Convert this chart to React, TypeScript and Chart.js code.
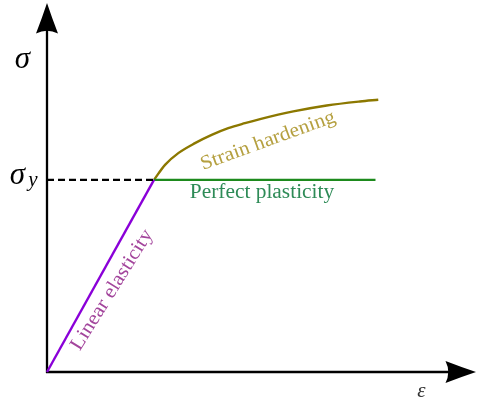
import { useEffect, useRef } from "react";
import { Chart, registerables } from "chart.js";
Chart.register(...registerables);

// Stress-strain data (arbitrary units; yield point at (1, 1))
const elasticStrain = [0, 1];
const elasticStress = [0, 1];
const yieldLineStrain = [0, 1];
const yieldLineStress = [1, 1];
const plasticStrain = [1, 3.07];
const plasticStress = [1, 1];
const hardeningStrain = [1, 1.103, 1.227, 1.383, 1.539, 1.694, 1.85, 1.991, 2.302, 2.614, 2.925, 3.096];
const hardeningStress = [1, 1.078, 1.139, 1.191, 1.234, 1.269, 1.295, 1.316, 1.356, 1.387, 1.408, 1.417];

const regionLabels = ["Linear elasticity", "Perfect plasticity", "Strain hardening"];
const stressSymbol = "σ";
const yieldSub = "y";
const strainSymbol = "ε";

const pts = (xs: number[], ys: number[]) => xs.map((x, i) => ({ x, y: ys[i] }));

const SERIF = "'Liberation Serif', 'DejaVu Serif', serif";

const decor = {
  id: "decor",
  beforeDatasetsDraw(chart: any) {
    const { ctx, scales } = chart;
    const x0 = scales.x.getPixelForValue(0);
    const y0 = scales.y.getPixelForValue(0);
    const xTip = scales.x.getPixelForValue(scales.x.max) + 1;
    const yTip = scales.y.getPixelForValue(scales.y.max) - 2;
    ctx.save();
    ctx.strokeStyle = "#000";
    ctx.fillStyle = "#000";
    ctx.lineWidth = 2.3;
    ctx.beginPath();
    ctx.moveTo(x0, y0 + 1);
    ctx.lineTo(x0, yTip + 20);
    ctx.moveTo(x0 - 1, y0);
    ctx.lineTo(xTip - 20, y0);
    ctx.stroke();
    // y arrow head
    ctx.beginPath();
    ctx.moveTo(x0, yTip);
    ctx.quadraticCurveTo(x0 + 5, yTip + 15, x0 + 11, yTip + 30.5);
    ctx.quadraticCurveTo(x0, yTip + 25, x0 - 11, yTip + 30.5);
    ctx.quadraticCurveTo(x0 - 5, yTip + 15, x0, yTip);
    ctx.fill();
    // x arrow head
    ctx.beginPath();
    ctx.moveTo(xTip, y0);
    ctx.quadraticCurveTo(xTip - 15, y0 - 5, xTip - 30.5, y0 - 11);
    ctx.quadraticCurveTo(xTip - 25, y0, xTip - 30.5, y0 + 11);
    ctx.quadraticCurveTo(xTip - 15, y0 + 5, xTip, y0);
    ctx.fill();
    ctx.restore();
  },
  afterDatasetsDraw(chart: any) {
    const { ctx, scales } = chart;
    const px = (v: number) => scales.x.getPixelForValue(v);
    const py = (v: number) => scales.y.getPixelForValue(v);
    ctx.save();
    ctx.textAlign = "center";
    ctx.textBaseline = "middle";

    // axis symbols
    ctx.fillStyle = "#000";
    ctx.font = `italic 31px ${SERIF}`;
    ctx.fillText(stressSymbol, px(-0.229), py(1.625));
    ctx.fillText(stressSymbol, px(-0.276), py(1.021));
    ctx.font = `italic 21px ${SERIF}`;
    ctx.fillText(yieldSub, px(-0.131), py(0.997));
    ctx.fillStyle = "#333";
    ctx.font = `italic 21px ${SERIF}`;
    ctx.fillText(strainSymbol, px(3.5), py(-0.1));

    const rot = (text: string, x: number, y: number, ang: number, color: string) => {
      ctx.save();
      ctx.translate(x, y);
      ctx.rotate((ang * Math.PI) / 180);
      ctx.scale(1.07, 1);
      ctx.fillStyle = color;
      ctx.font = `20px ${SERIF}`;
      ctx.fillText(text, 0, 0);
      ctx.restore();
    };
    rot(regionLabels[0], px(0.607), py(0.427), -58, "#a3459c");
    rot(regionLabels[1], px(2.009), py(0.932), 0, "#2e8b57");
    rot(regionLabels[2], px(2.065), py(1.203), -20, "#b5a040");
    ctx.restore();
  },
};

export default function App() {
  const ref = useRef<HTMLCanvasElement>(null);
  useEffect(() => {
    const chart = new Chart(ref.current!, {
      type: "scatter",
      data: {
        datasets: [
          {
            data: pts(yieldLineStrain, yieldLineStress),
            showLine: true,
            borderColor: "#000",
            borderWidth: 2.2,
            borderDash: [7, 4],
            pointRadius: 0,
          },
          {
            data: pts(elasticStrain, elasticStress),
            showLine: true,
            borderColor: "#8a00d8",
            borderWidth: 2.4,
            pointRadius: 0,
          },
          {
            data: pts(plasticStrain, plasticStress),
            showLine: true,
            borderColor: "#1d8a1d",
            borderWidth: 2.4,
            pointRadius: 0,
          },
          {
            data: pts(hardeningStrain, hardeningStress),
            showLine: true,
            borderColor: "#8c7800",
            borderWidth: 2.4,
            pointRadius: 0,
            cubicInterpolationMode: "monotone",
          },
        ],
      },
      options: {
        responsive: false,
        animation: false,
        clip: false,
        layout: { padding: { left: 47, right: 2, top: 5, bottom: 34 } },
        plugins: { legend: { display: false }, tooltip: { enabled: false } },
        scales: {
          x: { type: "linear", min: 0, max: 4, display: false },
          y: { type: "linear", min: 0, max: 1.91, display: false },
        },
      } as any,
      plugins: [decor],
    });
    return () => chart.destroy();
  }, []);
  return (
    <div style={{ position: "fixed", left: 0, top: 0, width: 477, height: 406, background: "#fff" }}>
      <canvas ref={ref} width={477} height={406} />
    </div>
  );
}
